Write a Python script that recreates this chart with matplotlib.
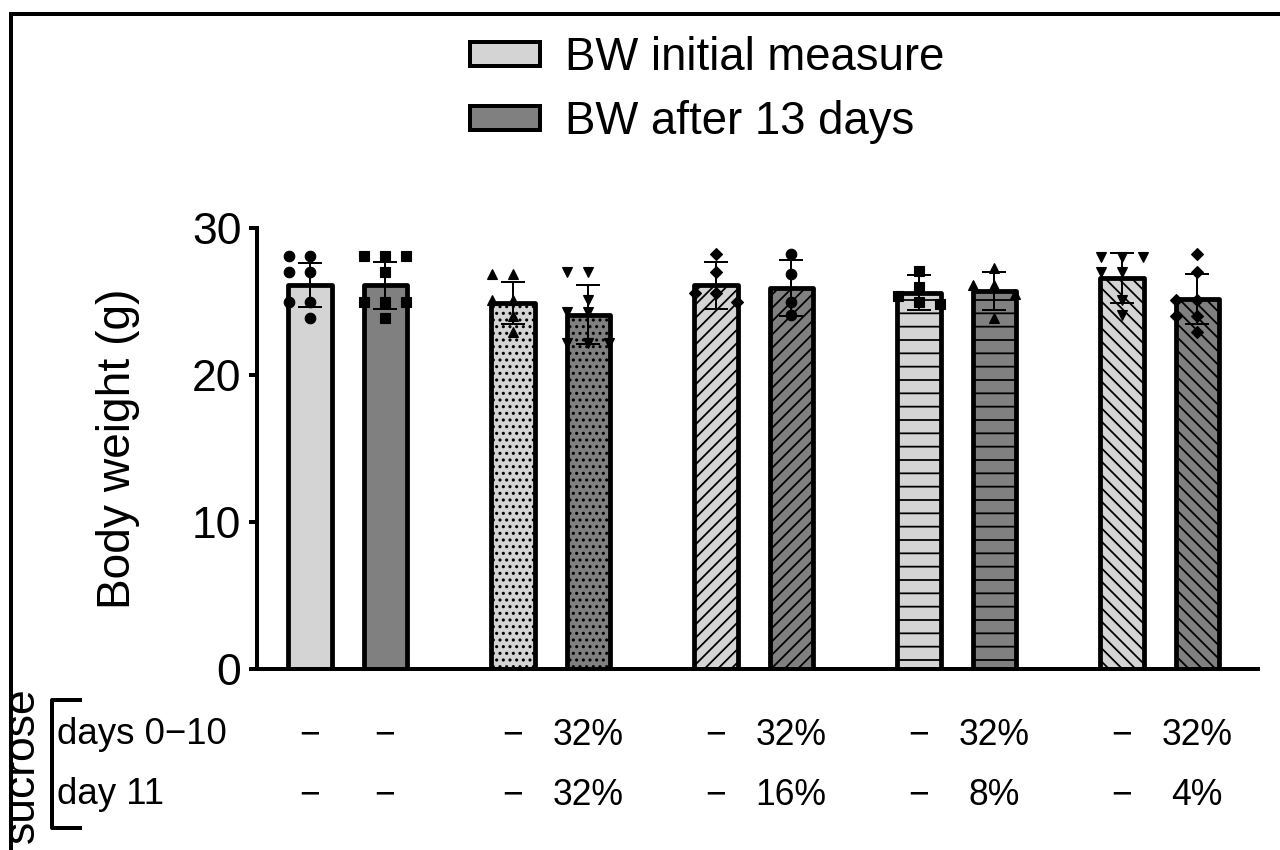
import numpy as np
import matplotlib
matplotlib.use('Agg')
import matplotlib.pyplot as plt
from matplotlib.patches import Patch
from matplotlib.lines import Line2D

# bar order: (initial, after 13 days) for each of the five groups
means = [26.1, 26.1, 24.9, 24.1, 26.1, 25.9, 25.6, 25.7, 26.6, 25.2]
sds = [1.5, 1.6, 1.4, 2.0, 1.6, 1.9, 1.2, 1.3, 1.7, 1.7]

points = [
    [28.1, 28.1, 27.0, 27.0, 25.0, 25.0, 23.9],
    [28.1, 28.1, 28.1, 27.0, 25.0, 25.0, 25.0, 23.9],
    [26.9, 26.9, 25.1, 25.1, 24.0, 22.9],
    [27.0, 27.0, 25.1, 24.3, 24.3, 22.2, 22.2, 22.2],
    [28.2, 27.0, 25.6, 25.6, 25.0],
    [28.2, 26.9, 25.0, 24.1],
    [27.1, 26.0, 25.4, 25.0, 24.8],
    [27.3, 26.1, 26.1, 25.5, 23.9],
    [28.0, 28.0, 28.0, 27.0, 27.0, 25.1, 24.1],
    [28.2, 27.0, 25.1, 25.1, 24.0, 24.0, 22.9],
]

row1 = ['\u2212', '\u2212', '\u2212', '32%', '\u2212', '32%', '\u2212', '32%', '\u2212', '32%']
row2 = ['\u2212', '\u2212', '\u2212', '32%', '\u2212', '16%', '\u2212', '8%', '\u2212', '4%']
row_labels = ['days 0\u221210', 'day 11']
legend_labels = ['BW initial measure', 'BW after 13 days']

colors = ['#d4d4d4', '#808080']
hatches = [None, '..', '//', '-', '\\\\']
markers = ['o', 's', '^', 'v', 'D', 'o', 's', '^', 'v', 'D']


def swarm(vals, dx, dy):
    # simple deterministic beeswarm: center first, then left/right
    placed = []
    for v in vals:
        for k in [0, -1, 1, -2, 2]:
            off = k * dx
            if all(not (abs(v - pv) < dy and abs(off - po) < dx * 0.9) for pv, po in placed):
                placed.append((v, off))
                break
    return [p[1] for p in placed]


plt.rcParams['font.family'] = ['Liberation Sans', 'DejaVu Sans']
plt.rcParams['hatch.linewidth'] = 1.6

fig = plt.figure(figsize=(16, 10.625), dpi=80)
ax = fig.add_axes([257 / 1280, 1 - 669 / 850, 1001 / 1280, 441 / 850])

n_groups = 5
offset = 0.185
width = 0.212
xs = []
for g in range(n_groups):
    xs += [g - offset, g + offset]
xs = np.array(xs)

for i, x in enumerate(xs):
    ax.bar(x, means[i], width=width, color=colors[i % 2], edgecolor='k',
           linewidth=4.3, hatch=hatches[i // 2], zorder=2, joinstyle='round')

ax.errorbar(xs, means, yerr=sds, fmt='none', ecolor='k', elinewidth=1.8,
            capsize=10.8, capthick=1.8, zorder=3)

for i, x in enumerate(xs):
    offs = swarm(points[i], 0.103, 0.7)
    ms = 9.5
    if markers[i] == 's':
        ms = 8.5
    if markers[i] == 'D':
        ms = 8
    ax.plot(x + np.array(offs), points[i], linestyle='none', marker=markers[i],
            color='k', markersize=ms, zorder=4, clip_on=False)

ax.set_xlim(-0.446, 4.485)
ax.set_ylim(0, 30)
ax.set_yticks([0, 10, 20, 30])
ax.set_xticks([])
for s in ['top', 'right']:
    ax.spines[s].set_visible(False)
for s in ['left', 'bottom']:
    ax.spines[s].set_linewidth(3.6)
ax.tick_params(axis='y', length=7, width=3.6, labelsize=40, pad=7)

fig.text(118 / 1280, 1 - 449 / 850, 'Body weight (g)', rotation=90,
         ha='center', va='center', fontsize=41.5)

# treatment table below the x axis
tr = ax.get_xaxis_transform()
for i, x in enumerate(xs):
    ax.text(x, -0.150, row1[i], transform=tr, ha='center', va='center',
            fontsize=32, clip_on=False)
    ax.text(x, -0.286, row2[i], transform=tr, ha='center', va='center',
            fontsize=32, clip_on=False)
fig.text(57 / 1280, 1 - 735 / 850, row_labels[0], ha='left', va='center', fontsize=33)
fig.text(57 / 1280, 1 - 795 / 850, row_labels[1], ha='left', va='center', fontsize=33)
fig.text(22 / 1280, 1 - 765 / 850, 'sucrose', rotation=90, ha='center',
         va='center', fontsize=40)
fig.add_artist(Line2D([80 / 1280, 52 / 1280, 52 / 1280, 80 / 1280],
                      [1 - 700 / 850, 1 - 700 / 850, 1 - 828 / 850, 1 - 828 / 850],
                      color='k', linewidth=3.6, transform=fig.transFigure))

# frame lines of the panel
fig.add_artist(Line2D([11 / 1280, 1.0], [1 - 14 / 850, 1 - 14 / 850],
                      color='k', linewidth=3.6, transform=fig.transFigure))
fig.add_artist(Line2D([11 / 1280, 11 / 1280], [0.0, 1 - 14 / 850],
                      color='k', linewidth=3.6, transform=fig.transFigure))

handles = [Patch(facecolor=colors[0], edgecolor='k', linewidth=3.6),
           Patch(facecolor=colors[1], edgecolor='k', linewidth=3.6)]
fig.legend(handles, legend_labels, loc='upper left',
           bbox_to_anchor=(470 / 1280, 1 - 36 / 850), frameon=False,
           fontsize=41, handlelength=1.53, handleheight=0.42,
           handletextpad=0.55, labelspacing=0.45, borderpad=0, borderaxespad=0)

plt.savefig('out.png', dpi=80)
